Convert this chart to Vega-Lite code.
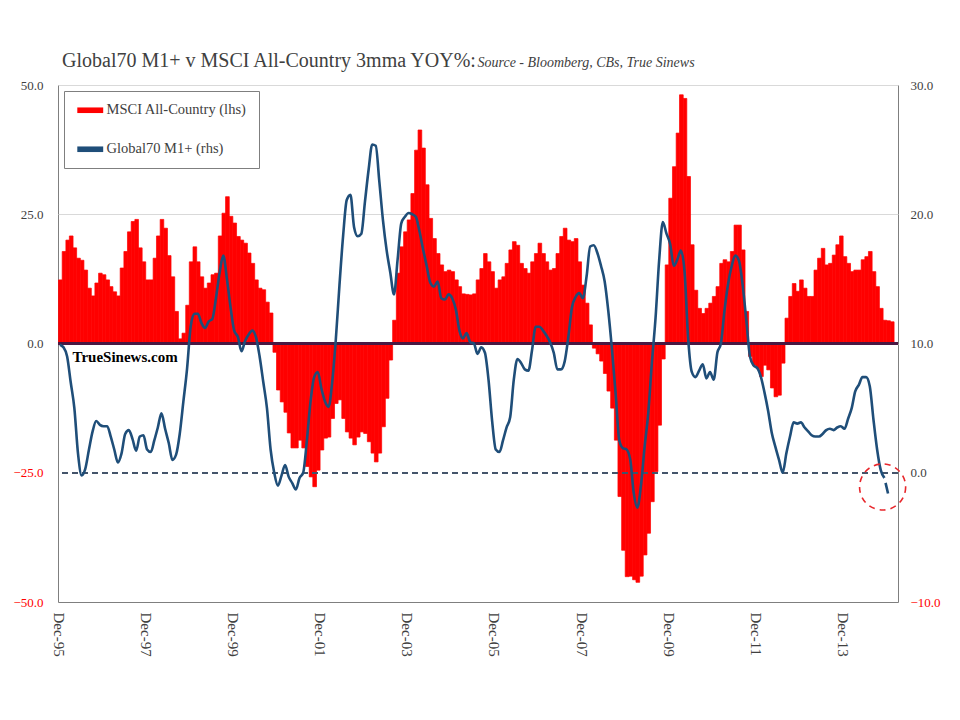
{
  "$schema": "https://vega.github.io/schema/vega-lite/v6.json",
  "description": "Global70 M1+ v MSCI All-Country 3mma YOY%",
  "width": 840,
  "height": 517,
  "autosize": {"type": "none"},
  "padding": {"left": 58, "top": 85, "right": 62, "bottom": 118},
  "title": {
    "text": "Global70 M1+ v MSCI All-Country 3mma YOY%:",
    "anchor": "start",
    "frame": "group",
    "dx": 4,
    "offset": -32,
    "baseline": "alphabetic",
    "font": "Liberation Serif",
    "fontSize": 20,
    "fontWeight": "normal",
    "color": "#404040"
  },
  "data": {
    "values": [
      {"date": "1995-12-01", "msci": 12.3, "m1": 9.9},
      {"date": "1996-01-01", "msci": 17.8, "m1": 9.7},
      {"date": "1996-02-01", "msci": 20.0, "m1": 9.0},
      {"date": "1996-03-01", "msci": 20.8, "m1": 7.0},
      {"date": "1996-04-01", "msci": 18.5, "m1": 5.0},
      {"date": "1996-05-01", "msci": 16.5, "m1": 1.5},
      {"date": "1996-06-01", "msci": 16.1, "m1": -0.2},
      {"date": "1996-07-01", "msci": 14.2, "m1": 0.3},
      {"date": "1996-08-01", "msci": 10.7, "m1": 1.8},
      {"date": "1996-09-01", "msci": 9.2, "m1": 3.2},
      {"date": "1996-10-01", "msci": 11.7, "m1": 4.0},
      {"date": "1996-11-01", "msci": 13.6, "m1": 3.7},
      {"date": "1996-12-01", "msci": 13.3, "m1": 3.6},
      {"date": "1997-01-01", "msci": 12.3, "m1": 3.6},
      {"date": "1997-02-01", "msci": 11.0, "m1": 2.8},
      {"date": "1997-03-01", "msci": 10.0, "m1": 1.8},
      {"date": "1997-04-01", "msci": 9.2, "m1": 0.8},
      {"date": "1997-05-01", "msci": 14.6, "m1": 1.5},
      {"date": "1997-06-01", "msci": 17.8, "m1": 3.0},
      {"date": "1997-07-01", "msci": 21.6, "m1": 3.3},
      {"date": "1997-08-01", "msci": 23.6, "m1": 2.6},
      {"date": "1997-09-01", "msci": 24.0, "m1": 1.7},
      {"date": "1997-10-01", "msci": 18.5, "m1": 2.8},
      {"date": "1997-11-01", "msci": 15.8, "m1": 2.9},
      {"date": "1997-12-01", "msci": 12.3, "m1": 1.8},
      {"date": "1998-01-01", "msci": 12.3, "m1": 1.6},
      {"date": "1998-02-01", "msci": 16.5, "m1": 2.5},
      {"date": "1998-03-01", "msci": 20.8, "m1": 3.5},
      {"date": "1998-04-01", "msci": 24.0, "m1": 4.6},
      {"date": "1998-05-01", "msci": 22.3, "m1": 3.4},
      {"date": "1998-06-01", "msci": 17.0, "m1": 2.3},
      {"date": "1998-07-01", "msci": 12.9, "m1": 1.0},
      {"date": "1998-08-01", "msci": 6.2, "m1": 1.4},
      {"date": "1998-09-01", "msci": 0.9, "m1": 3.0},
      {"date": "1998-10-01", "msci": 2.0, "m1": 5.5},
      {"date": "1998-11-01", "msci": 7.4, "m1": 8.0},
      {"date": "1998-12-01", "msci": 15.8, "m1": 11.3},
      {"date": "1999-01-01", "msci": 18.7, "m1": 12.3},
      {"date": "1999-02-01", "msci": 15.8, "m1": 12.3},
      {"date": "1999-03-01", "msci": 12.9, "m1": 11.6},
      {"date": "1999-04-01", "msci": 10.7, "m1": 11.2},
      {"date": "1999-05-01", "msci": 11.7, "m1": 11.7},
      {"date": "1999-06-01", "msci": 13.3, "m1": 11.9},
      {"date": "1999-07-01", "msci": 13.6, "m1": 13.5},
      {"date": "1999-08-01", "msci": 20.8, "m1": 15.5},
      {"date": "1999-09-01", "msci": 25.2, "m1": 16.8},
      {"date": "1999-10-01", "msci": 28.4, "m1": 15.0},
      {"date": "1999-11-01", "msci": 24.6, "m1": 12.8},
      {"date": "1999-12-01", "msci": 23.3, "m1": 11.0},
      {"date": "2000-01-01", "msci": 20.7, "m1": 10.5},
      {"date": "2000-02-01", "msci": 20.0, "m1": 9.4},
      {"date": "2000-03-01", "msci": 19.4, "m1": 10.2},
      {"date": "2000-04-01", "msci": 17.5, "m1": 10.7},
      {"date": "2000-05-01", "msci": 15.5, "m1": 11.0},
      {"date": "2000-06-01", "msci": 12.3, "m1": 10.5},
      {"date": "2000-07-01", "msci": 10.7, "m1": 9.0},
      {"date": "2000-08-01", "msci": 10.4, "m1": 7.0},
      {"date": "2000-09-01", "msci": 8.0, "m1": 5.0},
      {"date": "2000-10-01", "msci": 5.9, "m1": 1.8},
      {"date": "2000-11-01", "msci": -1.7, "m1": 0.0},
      {"date": "2000-12-01", "msci": -9.0, "m1": -1.0},
      {"date": "2001-01-01", "msci": -11.3, "m1": -0.2},
      {"date": "2001-02-01", "msci": -13.3, "m1": 0.6},
      {"date": "2001-03-01", "msci": -17.3, "m1": -0.3},
      {"date": "2001-04-01", "msci": -20.2, "m1": -0.8},
      {"date": "2001-05-01", "msci": -20.2, "m1": -1.3},
      {"date": "2001-06-01", "msci": -18.7, "m1": -0.4},
      {"date": "2001-07-01", "msci": -20.2, "m1": 0.0},
      {"date": "2001-08-01", "msci": -23.8, "m1": 2.5},
      {"date": "2001-09-01", "msci": -25.8, "m1": 5.5},
      {"date": "2001-10-01", "msci": -27.7, "m1": 7.4},
      {"date": "2001-11-01", "msci": -24.5, "m1": 7.8},
      {"date": "2001-12-01", "msci": -20.6, "m1": 6.5},
      {"date": "2002-01-01", "msci": -18.3, "m1": 5.5},
      {"date": "2002-02-01", "msci": -18.1, "m1": 5.1},
      {"date": "2002-03-01", "msci": -14.5, "m1": 7.0},
      {"date": "2002-04-01", "msci": -11.6, "m1": 10.3},
      {"date": "2002-05-01", "msci": -10.9, "m1": 14.5},
      {"date": "2002-06-01", "msci": -14.5, "m1": 18.3},
      {"date": "2002-07-01", "msci": -17.1, "m1": 21.1},
      {"date": "2002-08-01", "msci": -18.3, "m1": 21.5},
      {"date": "2002-09-01", "msci": -19.6, "m1": 19.0},
      {"date": "2002-10-01", "msci": -18.1, "m1": 18.3},
      {"date": "2002-11-01", "msci": -17.1, "m1": 18.5},
      {"date": "2002-12-01", "msci": -17.4, "m1": 21.0},
      {"date": "2003-01-01", "msci": -19.0, "m1": 23.5},
      {"date": "2003-02-01", "msci": -21.2, "m1": 25.4},
      {"date": "2003-03-01", "msci": -22.9, "m1": 25.3},
      {"date": "2003-04-01", "msci": -21.2, "m1": 22.5},
      {"date": "2003-05-01", "msci": -16.1, "m1": 19.5},
      {"date": "2003-06-01", "msci": -10.6, "m1": 17.2},
      {"date": "2003-07-01", "msci": -3.2, "m1": 15.5},
      {"date": "2003-08-01", "msci": 4.5, "m1": 13.8},
      {"date": "2003-09-01", "msci": 13.6, "m1": 16.5},
      {"date": "2003-10-01", "msci": 18.7, "m1": 19.3},
      {"date": "2003-11-01", "msci": 21.6, "m1": 19.8},
      {"date": "2003-12-01", "msci": 23.9, "m1": 20.1},
      {"date": "2004-01-01", "msci": 29.0, "m1": 20.0},
      {"date": "2004-02-01", "msci": 37.4, "m1": 19.8},
      {"date": "2004-03-01", "msci": 41.3, "m1": 18.7},
      {"date": "2004-04-01", "msci": 37.8, "m1": 17.3},
      {"date": "2004-05-01", "msci": 30.7, "m1": 16.0},
      {"date": "2004-06-01", "msci": 24.2, "m1": 14.7},
      {"date": "2004-07-01", "msci": 20.3, "m1": 14.4},
      {"date": "2004-08-01", "msci": 17.4, "m1": 14.8},
      {"date": "2004-09-01", "msci": 15.2, "m1": 13.5},
      {"date": "2004-10-01", "msci": 13.9, "m1": 13.4},
      {"date": "2004-11-01", "msci": 14.2, "m1": 13.8},
      {"date": "2004-12-01", "msci": 13.9, "m1": 13.5},
      {"date": "2005-01-01", "msci": 12.3, "m1": 12.6},
      {"date": "2005-02-01", "msci": 11.0, "m1": 11.0},
      {"date": "2005-03-01", "msci": 9.6, "m1": 10.4},
      {"date": "2005-04-01", "msci": 9.5, "m1": 10.8},
      {"date": "2005-05-01", "msci": 9.4, "m1": 10.1},
      {"date": "2005-06-01", "msci": 9.6, "m1": 10.0},
      {"date": "2005-07-01", "msci": 12.3, "m1": 9.2},
      {"date": "2005-08-01", "msci": 14.5, "m1": 9.7},
      {"date": "2005-09-01", "msci": 17.4, "m1": 9.3},
      {"date": "2005-10-01", "msci": 15.8, "m1": 7.2},
      {"date": "2005-11-01", "msci": 13.9, "m1": 4.0},
      {"date": "2005-12-01", "msci": 10.7, "m1": 1.8},
      {"date": "2006-01-01", "msci": 12.3, "m1": 1.6},
      {"date": "2006-02-01", "msci": 12.9, "m1": 2.5},
      {"date": "2006-03-01", "msci": 15.5, "m1": 3.5},
      {"date": "2006-04-01", "msci": 18.1, "m1": 4.3},
      {"date": "2006-05-01", "msci": 19.7, "m1": 7.2},
      {"date": "2006-06-01", "msci": 19.0, "m1": 8.8},
      {"date": "2006-07-01", "msci": 15.5, "m1": 8.5},
      {"date": "2006-08-01", "msci": 14.5, "m1": 8.0},
      {"date": "2006-09-01", "msci": 13.6, "m1": 7.9},
      {"date": "2006-10-01", "msci": 15.8, "m1": 9.5},
      {"date": "2006-11-01", "msci": 17.4, "m1": 11.3},
      {"date": "2006-12-01", "msci": 19.4, "m1": 11.3},
      {"date": "2007-01-01", "msci": 17.4, "m1": 11.0},
      {"date": "2007-02-01", "msci": 15.8, "m1": 10.6},
      {"date": "2007-03-01", "msci": 14.2, "m1": 10.1},
      {"date": "2007-04-01", "msci": 14.5, "m1": 9.3},
      {"date": "2007-05-01", "msci": 17.4, "m1": 8.0},
      {"date": "2007-06-01", "msci": 20.7, "m1": 8.0},
      {"date": "2007-07-01", "msci": 22.3, "m1": 8.6},
      {"date": "2007-08-01", "msci": 20.0, "m1": 10.5},
      {"date": "2007-09-01", "msci": 19.7, "m1": 12.8},
      {"date": "2007-10-01", "msci": 20.3, "m1": 13.6},
      {"date": "2007-11-01", "msci": 15.8, "m1": 13.9},
      {"date": "2007-12-01", "msci": 11.3, "m1": 13.5},
      {"date": "2008-01-01", "msci": 7.8, "m1": 15.2},
      {"date": "2008-02-01", "msci": 3.6, "m1": 17.5},
      {"date": "2008-03-01", "msci": -0.9, "m1": 17.6},
      {"date": "2008-04-01", "msci": -2.0, "m1": 17.0},
      {"date": "2008-05-01", "msci": -3.4, "m1": 16.0},
      {"date": "2008-06-01", "msci": -5.8, "m1": 14.8},
      {"date": "2008-07-01", "msci": -9.2, "m1": 12.5},
      {"date": "2008-08-01", "msci": -12.5, "m1": 9.5},
      {"date": "2008-09-01", "msci": -18.7, "m1": 6.1},
      {"date": "2008-10-01", "msci": -29.6, "m1": 2.5},
      {"date": "2008-11-01", "msci": -40.0, "m1": 1.9},
      {"date": "2008-12-01", "msci": -45.1, "m1": 1.8},
      {"date": "2009-01-01", "msci": -45.0, "m1": 1.0},
      {"date": "2009-02-01", "msci": -45.7, "m1": -1.6},
      {"date": "2009-03-01", "msci": -46.2, "m1": -2.7},
      {"date": "2009-04-01", "msci": -45.0, "m1": -1.0},
      {"date": "2009-05-01", "msci": -40.9, "m1": 2.0},
      {"date": "2009-06-01", "msci": -36.7, "m1": 4.6},
      {"date": "2009-07-01", "msci": -30.6, "m1": 8.5},
      {"date": "2009-08-01", "msci": -24.8, "m1": 12.0},
      {"date": "2009-09-01", "msci": -15.8, "m1": 16.5},
      {"date": "2009-10-01", "msci": -3.0, "m1": 19.4},
      {"date": "2009-11-01", "msci": 15.2, "m1": 18.5},
      {"date": "2009-12-01", "msci": 28.1, "m1": 17.7},
      {"date": "2010-01-01", "msci": 34.2, "m1": 16.0},
      {"date": "2010-02-01", "msci": 40.7, "m1": 16.5},
      {"date": "2010-03-01", "msci": 48.1, "m1": 17.2},
      {"date": "2010-04-01", "msci": 47.4, "m1": 15.6},
      {"date": "2010-05-01", "msci": 32.3, "m1": 10.4},
      {"date": "2010-06-01", "msci": 19.1, "m1": 7.8},
      {"date": "2010-07-01", "msci": 10.3, "m1": 7.4},
      {"date": "2010-08-01", "msci": 6.8, "m1": 7.9},
      {"date": "2010-09-01", "msci": 5.8, "m1": 8.4},
      {"date": "2010-10-01", "msci": 6.8, "m1": 7.3},
      {"date": "2010-11-01", "msci": 7.8, "m1": 7.8},
      {"date": "2010-12-01", "msci": 9.1, "m1": 7.2},
      {"date": "2011-01-01", "msci": 11.0, "m1": 9.3},
      {"date": "2011-02-01", "msci": 15.5, "m1": 10.0},
      {"date": "2011-03-01", "msci": 16.2, "m1": 12.5},
      {"date": "2011-04-01", "msci": 15.8, "m1": 14.6},
      {"date": "2011-05-01", "msci": 17.8, "m1": 16.0},
      {"date": "2011-06-01", "msci": 22.9, "m1": 16.8},
      {"date": "2011-07-01", "msci": 22.9, "m1": 16.4},
      {"date": "2011-08-01", "msci": 18.1, "m1": 14.5},
      {"date": "2011-09-01", "msci": 6.2, "m1": 11.8},
      {"date": "2011-10-01", "msci": -2.5, "m1": 9.0},
      {"date": "2011-11-01", "msci": -4.2, "m1": 8.3},
      {"date": "2011-12-01", "msci": -4.8, "m1": 8.1},
      {"date": "2012-01-01", "msci": -6.4, "m1": 7.4},
      {"date": "2012-02-01", "msci": -4.2, "m1": 6.2},
      {"date": "2012-03-01", "msci": -5.1, "m1": 4.8},
      {"date": "2012-04-01", "msci": -8.6, "m1": 3.1},
      {"date": "2012-05-01", "msci": -10.3, "m1": 2.0},
      {"date": "2012-06-01", "msci": -10.0, "m1": 1.0},
      {"date": "2012-07-01", "msci": -3.8, "m1": 0.0},
      {"date": "2012-08-01", "msci": 4.9, "m1": 1.5},
      {"date": "2012-09-01", "msci": 9.1, "m1": 2.8},
      {"date": "2012-10-01", "msci": 11.6, "m1": 3.9},
      {"date": "2012-11-01", "msci": 10.1, "m1": 3.8},
      {"date": "2012-12-01", "msci": 12.3, "m1": 3.9},
      {"date": "2013-01-01", "msci": 10.7, "m1": 3.5},
      {"date": "2013-02-01", "msci": 9.1, "m1": 3.2},
      {"date": "2013-03-01", "msci": 9.1, "m1": 2.9},
      {"date": "2013-04-01", "msci": 14.2, "m1": 2.8},
      {"date": "2013-05-01", "msci": 16.5, "m1": 2.8},
      {"date": "2013-06-01", "msci": 18.4, "m1": 3.0},
      {"date": "2013-07-01", "msci": 15.2, "m1": 3.3},
      {"date": "2013-08-01", "msci": 15.5, "m1": 3.4},
      {"date": "2013-09-01", "msci": 17.1, "m1": 3.3},
      {"date": "2013-10-01", "msci": 19.1, "m1": 3.5},
      {"date": "2013-11-01", "msci": 20.8, "m1": 3.6},
      {"date": "2013-12-01", "msci": 16.8, "m1": 3.4},
      {"date": "2014-01-01", "msci": 15.5, "m1": 4.2},
      {"date": "2014-02-01", "msci": 13.9, "m1": 5.0},
      {"date": "2014-03-01", "msci": 14.2, "m1": 6.3},
      {"date": "2014-04-01", "msci": 14.2, "m1": 6.8},
      {"date": "2014-05-01", "msci": 16.2, "m1": 7.4},
      {"date": "2014-06-01", "msci": 16.8, "m1": 7.4},
      {"date": "2014-07-01", "msci": 17.8, "m1": 6.7},
      {"date": "2014-08-01", "msci": 13.9, "m1": 4.1},
      {"date": "2014-09-01", "msci": 11.0, "m1": 1.8},
      {"date": "2014-10-01", "msci": 6.8, "m1": 0.2},
      {"date": "2014-11-01", "msci": 4.5, "m1": -0.4, "m1p": -0.4},
      {"date": "2014-12-01", "msci": 4.4, "m1p": -1.6},
      {"date": "2015-01-01", "msci": 4.2}
    ]
  },
  "layer": [
    {
      "mark": {"type": "bar", "binSpacing": 0, "stroke": "#FF0000", "strokeWidth": 0.7},
      "encoding": {
        "x": {
          "field": "date",
          "timeUnit": "utcyearmonth",
          "type": "temporal",
          "scale": {"domain": [817776000000, 1425945600000]},
          "axis": {
            "orient": "bottom",
            "title": null,
            "values": [817776000000, 880934400000, 944006400000, 1007164800000, 1070236800000, 1133395200000, 1196467200000, 1259625600000, 1322697600000, 1385856000000],
            "format": "%b-%y",
            "formatType": "utc",
            "labelExpr": "utcFormat(datum.value, '%b-%y')",
            "labelAngle": 90,
            "labelAlign": "left",
            "labelBaseline": "middle",
            "labelPadding": 10,
            "labelFontSize": 15,
            "labelColor": "#404040",
            "labelOverlap": false,
            "labelFlush": false,
            "ticks": false,
            "domain": false,
            "grid": false
          }
        },
        "y": {
          "field": "msci",
          "type": "quantitative",
          "scale": {"domain": [-50, 50], "nice": false},
          "axis": {
            "orient": "left",
            "title": null,
            "values": [0, 25, 50],
            "format": ".1f",
            "ticks": false,
            "domain": false,
            "grid": true,
            "gridColor": "#d9d9d9",
            "labelPadding": 15,
            "labelFontSize": 13,
            "labelColor": "#404040"
          }
        },
        "color": {
          "datum": "MSCI All-Country (lhs)",
          "type": "nominal",
          "scale": {"domain": ["MSCI All-Country (lhs)", "Global70 M1+ (rhs)"], "range": ["#FF0000", "#1F4E79"]},
          "legend": {
            "title": null,
            "orient": "top-left",
            "offset": 6,
            "padding": 12,
            "fillColor": "#FFFFFF",
            "strokeColor": "#7f7f7f",
            "cornerRadius": 0,
            "labelFont": "Liberation Serif",
            "labelFontSize": 14.5,
            "labelColor": "#404040",
            "labelLimit": 300,
            "rowPadding": 24,
            "symbolType": "M-0.85,-0.4H2.85V0.4H-0.85Z",
            "symbolSize": 196,
            "symbolStrokeWidth": 0,
            "labelOffset": 16
          }
        }
      }
    },
    {
      "mark": {"type": "rule", "color": "#4A1942", "strokeWidth": 2},
      "encoding": {
        "y": {
          "datum": 0,
          "type": "quantitative",
          "scale": {"domain": [-50, 50], "nice": false},
          "axis": {
            "orient": "left",
            "title": null,
            "values": [-50, -25],
            "format": ".1f",
            "ticks": false,
            "domain": false,
            "grid": false,
            "labelPadding": 15,
            "labelFontSize": 13,
            "labelColor": "#FF0000"
          }
        }
      }
    },
    {
      "data": {"values": [{"date": "1996-04-01", "v": -2.6, "label": "TrueSinews.com"}]},
      "mark": {"type": "text", "align": "left", "baseline": "middle", "font": "Liberation Serif", "fontSize": 15, "fontWeight": "bold", "color": "#000000"},
      "encoding": {
        "x": {"field": "date", "timeUnit": "utcyearmonth", "type": "temporal", "axis": {"title": null, "format": "%b-%y", "formatType": "utc", "labelExpr": "utcFormat(datum.value, '%b-%y')"}},
        "y": {"field": "v", "type": "quantitative", "scale": {"domain": [-50, 50], "nice": false}, "axis": null},
        "text": {"field": "label"}
      }
    },
    {
      "mark": {"type": "rule", "color": "#44546A", "strokeWidth": 1.5, "strokeDash": [6, 4]},
      "encoding": {
        "y": {
          "datum": 0,
          "type": "quantitative",
          "scale": {"domain": [-10, 30], "nice": false},
          "axis": {
            "orient": "right",
            "title": null,
            "values": [-10],
            "format": ".1f",
            "ticks": false,
            "domain": false,
            "grid": false,
            "labelPadding": 12,
            "labelFontSize": 13,
            "labelColor": "#FF0000"
          }
        }
      }
    },
    {
      "mark": {"type": "line", "strokeWidth": 2.6, "interpolate": "monotone"},
      "encoding": {
        "x": {"field": "date", "timeUnit": "utcyearmonth", "type": "temporal", "bandPosition": 0.5, "axis": {"title": null, "format": "%b-%y", "formatType": "utc", "labelExpr": "utcFormat(datum.value, '%b-%y')"}},
        "y": {
          "field": "m1",
          "type": "quantitative",
          "scale": {"domain": [-10, 30], "nice": false},
          "axis": {
            "orient": "right",
            "values": [0, 10, 20, 30],
            "format": ".1f",
            "ticks": false,
            "domain": false,
            "grid": false,
            "labelPadding": 12,
            "labelFontSize": 13,
            "labelColor": "#404040",
            "title": "Source - Bloomberg, CBs, True Sinews",
            "titleAngle": 0,
            "titleX": -421,
            "titleY": -19,
            "titleAlign": "left",
            "titleBaseline": "alphabetic",
            "titleFont": "Liberation Serif",
            "titleFontStyle": "italic",
            "titleFontWeight": "normal",
            "titleFontSize": 14,
            "titleColor": "#404040"
          }
        },
        "color": {"datum": "Global70 M1+ (rhs)", "type": "nominal", "legend": null}
      }
    },
    {
      "mark": {"type": "line", "strokeWidth": 2.6, "color": "#1F4E79", "strokeDash": [0.1, 5, 12, 5]},
      "encoding": {
        "x": {"field": "date", "timeUnit": "utcyearmonth", "type": "temporal", "bandPosition": 0.5, "axis": {"title": null, "format": "%b-%y", "formatType": "utc", "labelExpr": "utcFormat(datum.value, '%b-%y')"}},
        "y": {"field": "m1p", "type": "quantitative", "scale": {"domain": [-10, 30], "nice": false}, "axis": null}
      }
    },
    {
      "data": {"values": [{"date": "2014-11-01", "v": -1.1}]},
      "mark": {"type": "point", "shape": "circle", "filled": false, "size": 2124, "stroke": "#E8262B", "strokeWidth": 1.6, "strokeDash": [6, 5], "opacity": 1},
      "encoding": {
        "x": {"field": "date", "timeUnit": "utcyearmonth", "type": "temporal", "axis": {"title": null, "format": "%b-%y", "formatType": "utc", "labelExpr": "utcFormat(datum.value, '%b-%y')"}},
        "y": {"field": "v", "type": "quantitative", "scale": {"domain": [-10, 30], "nice": false}, "axis": null}
      }
    }
  ],
  "resolve": {"scale": {"y": "independent"}, "axis": {"y": "independent"}},
  "config": {
    "font": "Liberation Serif",
    "view": {"stroke": "#7f7f7f", "strokeWidth": 1},
    "background": "#FFFFFF"
  }
}
